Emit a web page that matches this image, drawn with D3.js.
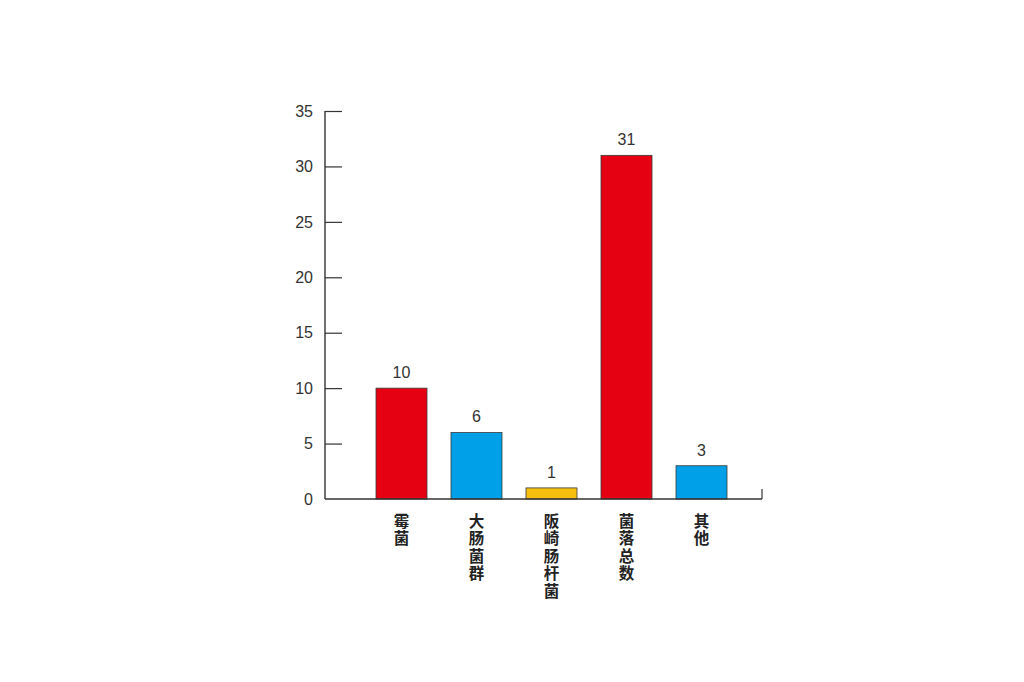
<!DOCTYPE html>
<html>
<head>
<meta charset="utf-8">
<script src="https://cdn.jsdelivr.net/npm/d3@7"></script>
<style>
  body { margin: 0; background: #fff; }
</style>
</head>
<body>
<script>
var categories = ["霉菌", "大肠菌群", "阪崎肠杆菌", "菌落总数", "其他"];
var values = [10, 6, 1, 31, 3];
var barColors = ["#e50012", "#00a0e9", "#f6bf0f", "#e50012", "#00a0e9"];
var yTicks = [0, 5, 10, 15, 20, 25, 30, 35];

var svg = d3.select("body").append("svg")
    .attr("width", 1024)
    .attr("height", 682);

var x0 = 325, x1 = 762, yBottom = 499, yTop = 111;

// step 75, bar 51
var x = d3.scaleBand()
    .domain(categories)
    .range([364, 739])
    .paddingInner(0.32)
    .paddingOuter(0.16);

var y = d3.scaleLinear()
    .domain([0, 35])
    .range([yBottom, yTop]);

// bars
svg.selectAll("rect.bar")
    .data(values)
    .enter()
    .append("rect")
    .attr("class", "bar")
    .attr("x", function(d, i) { return x(categories[i]); })
    .attr("y", function(d) { return y(d); })
    .attr("width", x.bandwidth())
    .attr("height", function(d) { return y(0) - y(d); })
    .attr("fill", function(d, i) { return barColors[i]; })
    .attr("stroke", "#3a3a3a")
    .attr("stroke-width", 0.8);

// value labels
svg.selectAll("text.val")
    .data(values)
    .enter()
    .append("text")
    .attr("class", "val")
    .attr("x", function(d, i) { return x(categories[i]) + x.bandwidth() / 2; })
    .attr("y", function(d) { return y(d) - 10; })
    .attr("text-anchor", "middle")
    .attr("font-family", "Liberation Sans, Arial, sans-serif")
    .attr("font-size", "16px")
    .attr("fill", "#333")
    .text(function(d) { return d; });

// y axis, ticks pointing inward
var yAxis = d3.axisRight(y)
    .tickValues(yTicks)
    .tickSize(17)
    .tickFormat("");
var gy = svg.append("g")
    .attr("transform", "translate(" + x0 + ",0)")
    .call(yAxis);
gy.select(".domain").remove();
gy.selectAll(".tick line").attr("stroke", "#333").attr("stroke-width", 1.2)
    .filter(function(d) { return d === 0; }).remove();

svg.append("line")
    .attr("x1", x0).attr("x2", x0)
    .attr("y1", yTop).attr("y2", yBottom)
    .attr("stroke", "#333").attr("stroke-width", 1.4);

svg.selectAll("text.ytick")
    .data(yTicks)
    .enter()
    .append("text")
    .attr("class", "ytick")
    .attr("x", 313)
    .attr("y", function(d) { return y(d); })
    .attr("dy", "0.36em")
    .attr("text-anchor", "end")
    .attr("font-family", "Liberation Sans, Arial, sans-serif")
    .attr("font-size", "16px")
    .attr("fill", "#333")
    .text(function(d) { return d; });

// x axis baseline with end tick
svg.append("line")
    .attr("x1", x0).attr("x2", x1)
    .attr("y1", yBottom).attr("y2", yBottom)
    .attr("stroke", "#333").attr("stroke-width", 1.4);
svg.append("line")
    .attr("x1", x1).attr("x2", x1)
    .attr("y1", yBottom - 10).attr("y2", yBottom)
    .attr("stroke", "#333").attr("stroke-width", 1.2);

// vertical category labels
svg.selectAll("text.cat")
    .data(categories)
    .enter()
    .append("text")
    .attr("class", "cat")
    .attr("x", function(d) { return x(d) + x.bandwidth() / 2; })
    .attr("y", 513)
    .style("writing-mode", "vertical-rl")
    .style("text-orientation", "upright")
    .attr("letter-spacing", "2px")
    .attr("font-family", "Noto Sans CJK SC, sans-serif")
    .attr("font-weight", "bold")
    .attr("font-size", "15.5px")
    .attr("fill", "#222")
    .text(function(d) { return d; });
</script>
</body>
</html>
